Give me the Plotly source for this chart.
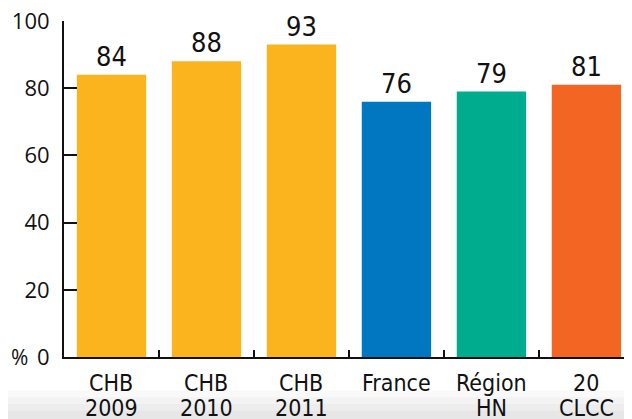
import plotly.graph_objects as go

categories = ["CHB<br>2009", "CHB<br>2010", "CHB<br>2011", "France", "Région<br>HN", "20<br>CLCC"]
values = [84, 88, 93, 76, 79, 81]
colors = ["#FBB41E", "#FBB41E", "#FBB41E", "#0077C0", "#00AC8E", "#F26522"]
y_ticks = [0, 20, 40, 60, 80, 100]

cond = '"DejaVu Sans Condensed", "Liberation Sans Narrow", sans-serif'
reg = '"Open Sans", "Noto Sans", sans-serif'

fig = go.Figure(go.Bar(
    x=list(range(len(categories))),
    y=values,
    marker=dict(color=colors, line=dict(width=0)),
    text=[str(v) for v in values],
    textposition="outside",
    textfont=dict(family=cond, size=27, color="#111111"),
    cliponaxis=False,
    width=0.73,
))

# page body has an 8px margin: size the figure so the plot lands where the reference has it
fig.update_layout(
    width=624, height=411,
    margin=dict(l=56, r=0, t=13, b=62, autoexpand=False),
    paper_bgcolor="white", plot_bgcolor="white",
    showlegend=False,
    xaxis=dict(
        range=[-0.5, 5.48],
        tickmode="array",
        tickvals=[i + 0.5 for i in range(-1, 6)],
        ticktext=[""] * 7,
        ticks="inside", ticklen=7, tickwidth=2, tickcolor="#111111",
        showline=True, linecolor="#111111", linewidth=2,
        showgrid=False, zeroline=False,
    ),
    yaxis=dict(
        range=[0, 100],
        tickvals=y_ticks,
        ticks="inside", ticklen=13, tickwidth=2, tickcolor="#111111",
        showline=True, linecolor="#111111", linewidth=2,
        showgrid=False, zeroline=False,
        tickfont=dict(family=reg, size=22, color="#111111"),
        ticklabelstandoff=8,
        ticklabeloverflow="allow",
        automargin=False,
    ),
)

# soft grey shading at the bottom edge
for y0 in [-0.10, -0.12, -0.14, -0.16]:
    fig.add_shape(type="rect", xref="paper", yref="paper",
                  x0=-0.12, x1=1.0, y0=-0.19, y1=y0,
                  fillcolor="#888888", opacity=0.05, line=dict(width=0), layer="below")

# category labels, one annotation per line for tight line spacing
for i, c in enumerate(categories):
    for j, line in enumerate(c.split("<br>")):
        fig.add_annotation(
            x=i, y=0, xref="x", yref="y", yshift=-26 - 25 * j,
            text=line, showarrow=False, yanchor="middle",
            font=dict(family=cond, size=23, color="#111111"),
            align="center",
        )

fig.add_annotation(
    x=-0.0775, y=0, xref="paper", yref="y",
    text="%", showarrow=False, xanchor="center",
    font=dict(family=reg, size=21, color="#111111"),
)

fig.write_html("out.html")
